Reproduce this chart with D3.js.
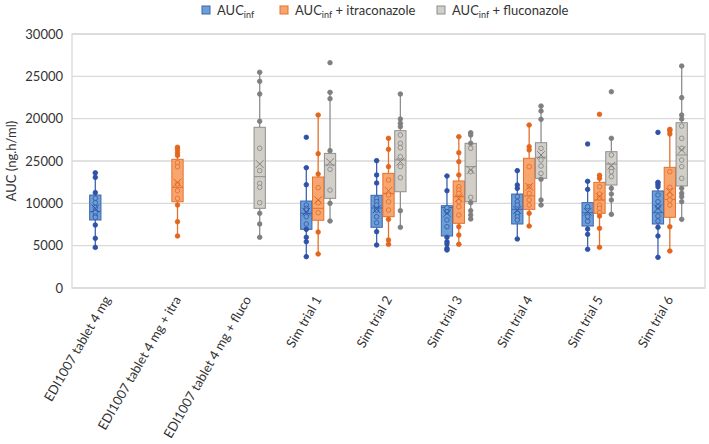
<!DOCTYPE html>
<html><head><meta charset="utf-8">
<script src="https://cdn.jsdelivr.net/npm/d3@7"></script>
<style>body{margin:0;background:#fff;} svg{display:block;font-family:Lato,"Open Sans",sans-serif;}</style>
</head><body><svg id="c" width="709" height="444"></svg>
<script>
const categories = ["EDI1007 tablet 4 mg","EDI1007 tablet 4 mg + itra","EDI1007 tablet 4 mg + fluco","Sim trial 1","Sim trial 2","Sim trial 3","Sim trial 4","Sim trial 5","Sim trial 6"];
const seriesNames = ["AUC_inf","AUC_inf + itraconazole","AUC_inf + fluconazole"];
const yTicks = [0,5000,10000,15000,20000,25000,30000];
const yTickLabels = ["0","5000","10000","25000","20000","25000","30000"];

// [whiskerLow, Q1, median, Q3, whiskerHigh, mean]
const aucStats = [
  [4700,8030,9010,10980,13600,9410], null, null,
  [3700,6930,8820,10270,14210,9010],
  [5080,7170,9450,10950,15040,9300],
  [4490,6140,9500,9720,13230,8820],
  [5790,7560,9290,11100,13860,9210],
  [4570,7320,8890,10080,12600,9010],
  [3620,7560,8890,11460,12480,9410]
];
const aucPoints = [
  [13600,13070,11260,10600,10070,9500,8900,8500,8350,7440,5870,4800], null, null,
  [17800,14210,12200,9800,9410,9210,8420,7560,6930,5990,5470,3700],
  [15040,13350,12400,10590,10190,9800,9210,8420,7710,6650,5080],
  [13230,11490,9490,9010,8030,7240,5990,5470,5200,4690,4490],
  [13860,12160,11770,10780,10190,9800,8820,8420,8030,5790],
  [17010,12600,11650,9600,8420,7870,6970,6340,4570],
  [18380,12480,12240,11960,10980,10190,9600,8500,7910,7170,6140,3620]
];
const itraStats = [
  null, [6140,10190,11890,15200,16620,12440], null,
  [4020,8000,9410,13110,20430,10390],
  [5160,8420,11180,13540,17680,11490],
  [5160,7640,10780,12640,17870,10590],
  [7320,9290,10870,15320,19250,11960],
  [4810,8820,10390,12480,13310,10780],
  [4370,8350,10470,14250,18740,11370]
];
const itraPoints = [
  null, [16620,16380,15980,15670,14800,14330,12300,11490,10590,9800,7830,6140], null,
  [20430,15860,13460,11850,10080,8890,6610,4020],
  [17680,16380,14330,12750,10980,10190,9210,8110,5670,5160],
  [17870,15980,14920,13350,11960,11570,11180,10190,9600,8620,7240,6260,5160],
  [19250,16690,16300,14330,11960,11180,10390,9800,8820,7320],
  [20510,13310,12950,11960,11100,10670,9800,9410,8890,8500,7050,4810],
  [18740,18540,18190,13740,11890,10980,10390,9800,7240,4370]
];
const flucoStats = [
  null, null, [5990,9410,13150,18980,25475,14640],
  [7910,10590,14530,15900,23110,14850],
  [7170,11370,15120,18580,22910,14920],
  [8150,10190,14330,17090,18340,13940],
  [9800,12950,15440,17160,21490,15710],
  [8700,12160,14640,16100,17680,14440],
  [8110,12050,15710,19520,26220,16300]
];
const flucoPoints = [
  null, null, [25475,24410,22910,19690,16500,13860,12360,11890,10080,8820,7560,5990],
  [26610,23110,22360,16220,14020,11570,10000,7910],
  [22910,19960,19450,19050,18070,17090,16570,15510,14330,13030,9130,7170],
  [18340,18070,17090,16500,13740,10710,10080,9130,8620,8150],
  [21490,20900,19920,16500,15120,14410,13540,12840,10390,9800],
  [23180,17680,15710,14140,13740,13150,11770,11100,10390,8700],
  [26220,22480,20430,19960,19130,17680,16500,15120,14330,12950,11770,11180,10780,10190,8110]
];

const series = [
  {name:"AUC", sub:"inf", rest:"", stats:aucStats, points:aucPoints, fill:"#6b9fd6", stroke:"#3c64b0", dot:"#2e52a6"},
  {name:"AUC", sub:"inf", rest:" + itraconazole", stats:itraStats, points:itraPoints, fill:"#f8a670", stroke:"#e5702c", dot:"#e3661d"},
  {name:"AUC", sub:"inf", rest:" + fluconazole", stats:flucoStats, points:flucoPoints, fill:"#d1cfc8", stroke:"#8e8e8e", dot:"#7f7f7f"}
];

const svg = d3.select("#c");
const L=72, R=705, T=34, B=288;
const x = d3.scaleBand().domain(categories).range([L,R]);
const xs = d3.scaleBand().domain([0,1,2]).range([-17.5,17.5]).paddingInner(0.05);
const y = d3.scaleLinear().domain([0,30000]).range([B,T]);

// gridlines
svg.append("g").selectAll("line").data(yTicks).join("line")
  .attr("x1",L).attr("x2",R).attr("y1",d=>y(d)).attr("y2",d=>y(d))
  .attr("stroke","#d9d9d9").attr("stroke-width",1.3);
svg.append("rect").attr("x",L).attr("y",T).attr("width",R-L).attr("height",B-T)
  .attr("fill","none").attr("stroke","#d9d9d9").attr("stroke-width",1.3);

// y axis
const yAxis = d3.axisLeft(y).tickValues(yTicks).tickFormat((d,i)=>yTickLabels[i]).tickSize(0).tickPadding(9);
const ya = svg.append("g").attr("transform",`translate(${L},0)`).call(yAxis);
ya.select(".domain").remove();
ya.selectAll("text").attr("font-size",13).attr("fill","#333").attr("font-family","Lato, sans-serif");

svg.append("text").attr("transform",`translate(16,${(T+B)/2}) rotate(-90)`)
  .attr("text-anchor","middle").attr("font-size",13).attr("fill","#333").text("AUC (ng.h/ml)");

// x labels
svg.append("g").selectAll("text").data(categories).join("text")
  .attr("transform",d=>`translate(${x(d)+x.bandwidth()/2},${B+9}) rotate(-60)`)
  .attr("text-anchor","end").attr("dy","0.35em").attr("font-size",13).attr("fill","#333").text(d=>d);

// boxes
const bw = xs.bandwidth();
series.forEach((s,si)=>{
  const g = svg.append("g");
  categories.forEach((c,ci)=>{
    const st = s.stats[ci]; if(!st) return;
    const [lo,q1,med,q3,hi,mean] = st;
    const cx = x(c)+x.bandwidth()/2 + xs(si) + bw/2;
    const gg = g.append("g");
    gg.append("line").attr("x1",cx).attr("x2",cx).attr("y1",y(hi)).attr("y2",y(q3)).attr("stroke",s.stroke).attr("stroke-width",1.3);
    gg.append("line").attr("x1",cx).attr("x2",cx).attr("y1",y(q1)).attr("y2",y(lo)).attr("stroke",s.stroke).attr("stroke-width",1.3);
    [hi,lo].forEach(v=>gg.append("line").attr("x1",cx-2.5).attr("x2",cx+2.5).attr("y1",y(v)).attr("y2",y(v)).attr("stroke",s.stroke).attr("stroke-width",1.3));
    gg.append("rect").attr("x",cx-bw/2).attr("y",y(q3)).attr("width",bw).attr("height",y(q1)-y(q3))
      .attr("fill",s.fill).attr("stroke",s.stroke).attr("stroke-width",1);
    gg.append("line").attr("x1",cx-bw/2).attr("x2",cx+bw/2).attr("y1",y(med)).attr("y2",y(med)).attr("stroke",s.stroke).attr("stroke-width",1);
    s.points[ci].forEach(v=>{
      const inside = v>q1 && v<q3;
      gg.append("circle").attr("cx",cx).attr("cy",y(v)).attr("r",2.3)
        .attr("fill",inside? s.fill : s.dot).attr("stroke",s.dot).attr("stroke-width",inside?1:0.8)
        .attr("stroke-opacity",inside?0.75:1);
    });
    const m=3.8, my=y(mean);
    gg.append("path").attr("d",`M${cx-m},${my-m}L${cx+m},${my+m}M${cx-m},${my+m}L${cx+m},${my-m}`)
      .attr("stroke",s.dot).attr("stroke-width",1).attr("fill","none");
  });
});

// legend
const legX = [202, 280, 437];
series.forEach((s,i)=>{
  const g = svg.append("g").attr("transform",`translate(${legX[i]},5)`);
  g.append("rect").attr("x",0).attr("y",1).attr("width",8).attr("height",8).attr("fill",s.fill).attr("stroke",s.stroke).attr("stroke-width",1);
  const t = g.append("text").attr("x",15).attr("y",9.5).attr("font-size",13).attr("fill","#333");
  t.append("tspan").text(s.name);
  t.append("tspan").attr("font-size",9).attr("dy",3).text(s.sub);
  t.append("tspan").attr("dy",-3).text(s.rest);
});
</script></body></html>
